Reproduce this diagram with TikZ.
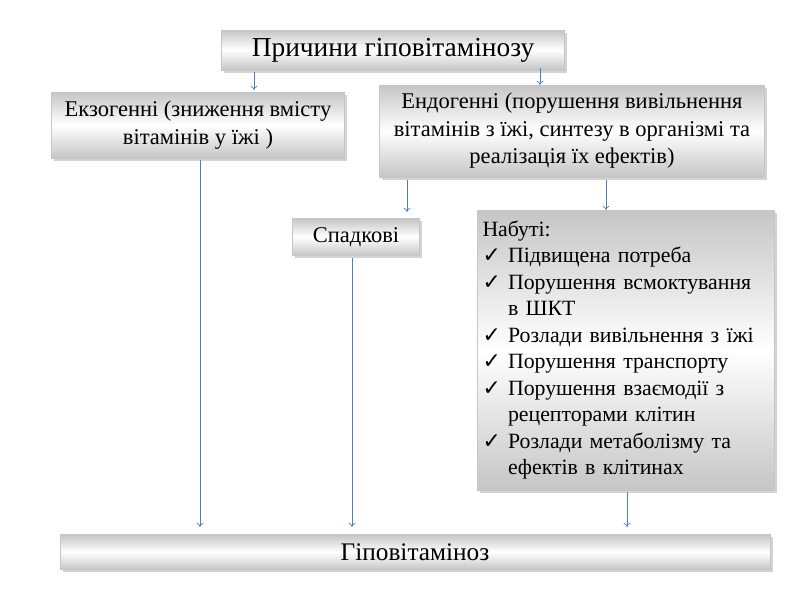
\documentclass[tikz,border=0pt]{standalone}
\usepackage{fontspec}
\setmainfont{Liberation Serif}
\newfontfamily\symf{DejaVu Sans}
\usetikzlibrary{shadows,arrows.meta}
\newcommand{\ck}{{\symf ✓}\ }
\newcommand{\ckph}{\hphantom{\ck}}
\begin{document}
\begin{tikzpicture}[x=0.025cm,y=-0.025cm,
  box/.style={draw=gray!45,line width=0.3pt,shading=axis,left color=gray!45,right color=gray!45,middle color=white,shading angle=0,
    drop shadow={shadow xshift=2pt,shadow yshift=-2pt,opacity=0.35},inner sep=2pt,align=center,font=\fontsize{16}{19.5}\selectfont},
  arr/.style={draw={rgb,255:red,80;green,125;blue,190},line width=0.5pt,-{To[length=3pt,width=5pt]}}]
\useasboundingbox (0,0) rectangle (800,600);
\node[box,minimum width=343*0.025cm,minimum height=40*0.025cm,font=\fontsize{19.5}{22}\selectfont] (top) at (393,50) {Причини гіповітамінозу};
\node[box,minimum width=293*0.025cm,minimum height=66*0.025cm] (exo) at (198,125) {Екзогенні (зниження вмісту\\ вітамінів у їжі )};
\node[box,minimum width=385*0.025cm,minimum height=92*0.025cm] (endo) at (572,131) {Ендогенні (порушення вивільнення\\ вітамінів з їжі, синтезу в організмі та\\ реалізація їх ефектів)};
\node[box,minimum width=127*0.025cm,minimum height=37*0.025cm] (sp) at (356,237) {Спадкові};
\node[box,minimum width=297*0.025cm,minimum height=280*0.025cm,align=left,text width=287*0.025cm,font=\fontsize{15.5}{18.8}\selectfont] (nab) at (626,350) {Набуті:\\
\ck Підвищена потреба\\
\ck Порушення всмоктування\\
\ckph в ШКТ\\
\ck Розлади вивільнення  з їжі\\
\ck Порушення транспорту\\
\ck Порушення взаємодії з\\
\ckph рецепторами клітин\\
\ck Розлади метаболізму та\\
\ckph ефектів в клітинах};
\node[box,minimum width=710*0.025cm,minimum height=35*0.025cm,font=\fontsize{18}{20}\selectfont] (bot) at (415,552) {Гіповітаміноз};
\coordinate (a1) at (254,72); \coordinate (a2) at (540,68);
\draw[arr] (a1) -- (254,90);
\draw[arr] (a2) -- (540,85);
\draw[arr] (407,180) -- (407,212);
\draw[arr] (606,180) -- (606,210);
\draw[arr] (200,160) -- (200,527);
\draw[arr] (352,258) -- (352,527);
\draw[arr] (627,492) -- (627,527);
\end{tikzpicture}
\end{document}
